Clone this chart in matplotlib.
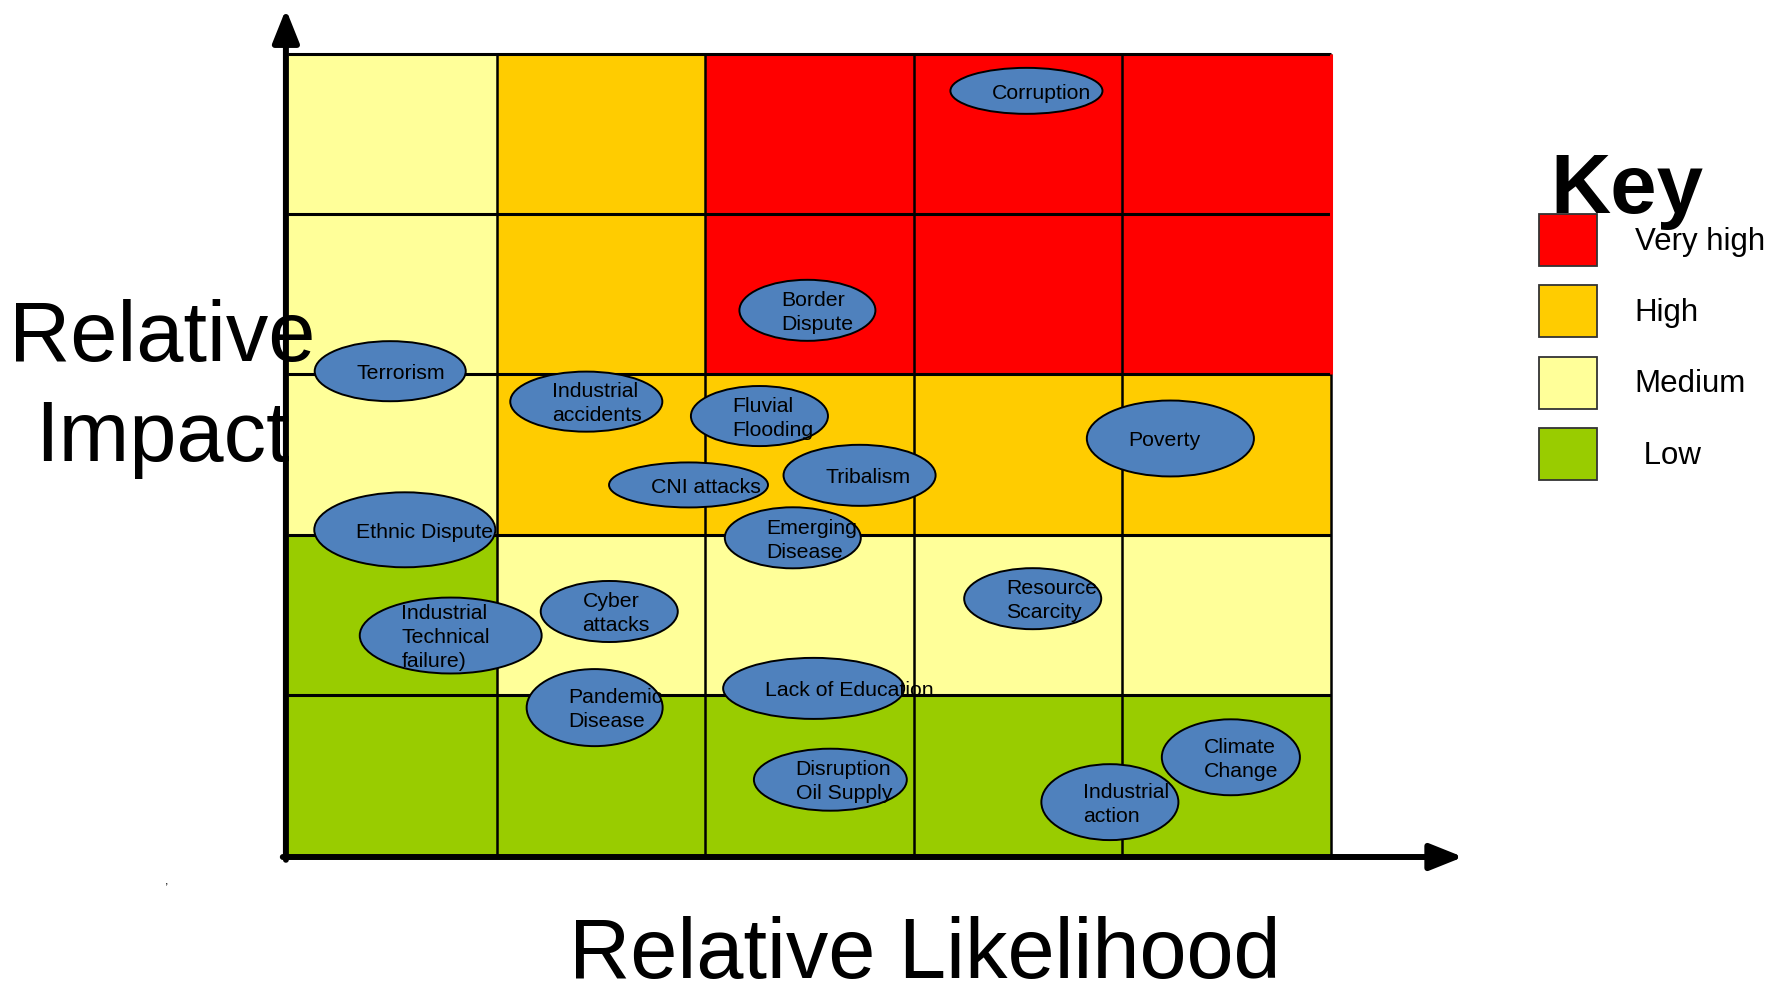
import matplotlib
matplotlib.use('Agg')
import matplotlib.pyplot as plt
from matplotlib.colors import ListedColormap, BoundaryNorm
from matplotlib.patches import Ellipse, Patch
import numpy as np

plt.rcParams['font.family'] = ['Liberation Sans', 'DejaVu Sans']

# key
levels = ['Very high', 'High', 'Medium', 'Low']
key_labels = ['Very high', 'High', 'Medium', ' Low']
level_colors = ['#FF0000', '#FFCC00', '#FFFF99', '#99CC00']

# risk level of each cell: rows = impact 1..5 (bottom up), cols = likelihood 1..5
# 0 = low, 1 = medium, 2 = high, 3 = very high
grid = [
    [0, 0, 0, 0, 0],
    [0, 1, 1, 1, 1],
    [1, 2, 2, 2, 2],
    [1, 2, 3, 3, 3],
    [1, 2, 3, 3, 3],
]

risks = ['Corruption', 'Border\nDispute', 'Terrorism', 'Industrial\naccidents',
         'Fluvial\nFlooding', 'Poverty', 'CNI attacks', 'Tribalism',
         'Ethnic Dispute', 'Emerging\nDisease', 'Resource\nScarcity',
         'Cyber\nattacks', 'Industrial\nTechnical\nfailure)', 'Pandemic\nDisease',
         'Lack of Education', 'Disruption\nOil Supply', 'Industrial\naction',
         'Climate\nChange']
likelihood = [3.54, 2.49, 0.49, 1.43, 2.26, 4.23, 1.92, 2.74, 0.56,
              2.42, 3.57, 1.54, 0.78, 1.47, 2.52, 2.60, 3.94, 4.52]
impact = [4.77, 3.40, 3.02, 2.83, 2.74, 2.60, 2.31, 2.37, 2.03,
          1.98, 1.60, 1.52, 1.37, 0.92, 1.04, 0.47, 0.33, 0.61]

# bubble sizes (width, height) in cell units
bubble_w = [.729, .652, .724, .729, .657, .801, .762, .729, .868,
            .652, .657, .657, .872, .652, .868, .733, .657, .662]
bubble_h = [.287, .381, .375, .375, .375, .474, .281, .381, .468,
            .381, .381, .381, .474, .481, .381, .387, .474, .474]

fig = plt.figure(figsize=(17.87, 9.86), dpi=100)
ax = fig.add_axes([288/1787, 1-855/986, 1043/1787, 801/986])

cmap = ListedColormap(level_colors[::-1])
norm = BoundaryNorm(np.arange(-0.5, 4.5, 1), cmap.N)
n = len(grid)
ax.pcolormesh(np.arange(n+1), np.arange(n+1), np.array(grid), cmap=cmap, norm=norm, zorder=1)

ax.hlines(np.arange(1, n+1), 0, n, color='black', lw=2.2, zorder=2, clip_on=False)
ax.vlines(np.arange(1, n+1), 0, n, color='black', lw=1.8, zorder=2, clip_on=False)
# red outline on the right edge of the very high block
ax.vlines(n, 3, n, color='#FF0000', lw=2.2, zorder=2.5, clip_on=False)

inset = 0.2
for i, name in enumerate(risks):
    e = Ellipse((likelihood[i], impact[i]), bubble_w[i], bubble_h[i],
                facecolor='#4F81BD', edgecolor='black', lw=1.4, zorder=3+i*0.01)
    ax.add_patch(e)
    ax.text(likelihood[i] - bubble_w[i]/2 + inset, impact[i] - 0.014, name,
            ha='left', va='center', fontsize=15.3, linespacing=1.33,
            zorder=3.005+i*0.01, clip_on=False)

ax.set_xlim(0, n)
ax.set_ylim(0, n)
ax.set_axis_off()

# axis arrows
arrow = dict(arrowstyle='-|>,head_length=1.0,head_width=0.4', lw=4.3,
             color='black', shrinkA=0, shrinkB=0, mutation_scale=20)
ax.annotate('', xy=(-0.002, 1.056), xytext=(-0.002, -0.006),
            xycoords='axes fraction', arrowprops=arrow, annotation_clip=False)
ax.annotate('', xy=(1.1267, -0.0025), xytext=(-0.005, -0.0025),
            xycoords='axes fraction', arrowprops=arrow, annotation_clip=False)

fig.text(162/1787, 1-389/986, 'Relative\nImpact', ha='center', va='center',
         fontsize=61, linespacing=1.33)
fig.text(925/1787, 1-978/986, 'Relative Likelihood', ha='center', va='baseline',
         fontsize=61)
fig.text(167/1787, 1-885/986, ',', ha='center', va='baseline', fontsize=9)

fig.text(1550/1787, 1-213/986, 'Key', ha='left', va='baseline', fontsize=60,
         fontweight='bold')
handles = [Patch(facecolor=c, edgecolor='#333333', linewidth=1.3) for c in level_colors]
fig.legend(handles, key_labels, loc='upper left',
           bbox_to_anchor=(1539/1787, 1-214/986), frameon=False, fontsize=22.5,
           handlelength=1.86, handleheight=2.18, labelspacing=0.62,
           handletextpad=1.2, borderpad=0, borderaxespad=0)

fig.savefig('out.png', dpi=100)
